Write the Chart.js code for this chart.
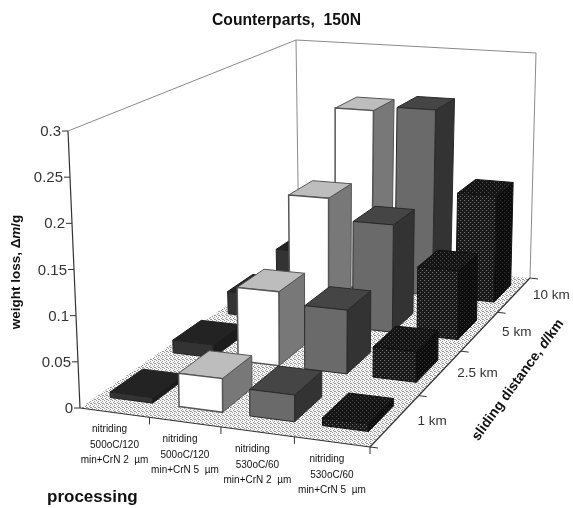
<!DOCTYPE html>
<html>
<head>
<meta charset="utf-8">
<style>
  html, body { margin: 0; padding: 0; background: #fff; }
  canvas { display: block; filter: blur(0.6px); }
</style>
<script src="https://cdn.jsdelivr.net/npm/chart.js@4"></script>
</head>
<body>
<canvas id="chart" width="573" height="508"></canvas>
<script>
const processing = ['p1', 'p2', 'p3', 'p4'];
const processingLine1 = ['nitriding', 'nitriding', 'nitriding', 'nitriding'];
const processingLine2 = ['500oC/120', '500oC/120', '530oC/60', '530oC/60'];
const processingLine3 = ['min+CrN 2  µm', 'min+CrN 5  µm', 'min+CrN 2  µm', 'min+CrN 5  µm'];
const distances = ['1 km', '2.5 km', '5 km', '10 km'];

const loss1km = [0.006, 0.036, 0.028, 0.008];
const loss2_5km = [0.015, 0.085, 0.072, 0.034];
const loss5km = [0.028, 0.156, 0.13, 0.082];
const loss10km = [0.04, 0.234, 0.24, 0.135];

// wall corners of the 3D box on screen: floor, then top of the value axis
const floorQuad = [[80, 408], [370, 447], [530, 278], [299, 255]];
const topQuad = [[68, 131], [371, 147], [536, 53], [296, 40]];
const barWidth = 0.62;
const barDepth = 0.5;

function homography(q) {
  const [[x0, y0], [x1, y1], [x2, y2], [x3, y3]] = q;
  const dx1 = x1 - x2, dx2 = x3 - x2, sx = x0 - x1 + x2 - x3;
  const dy1 = y1 - y2, dy2 = y3 - y2, sy = y0 - y1 + y2 - y3;
  const den = dx1 * dy2 - dx2 * dy1;
  const g = (sx * dy2 - dx2 * sy) / den;
  const h = (dx1 * sy - sx * dy1) / den;
  const a = x1 - x0 + g * x1, b = x3 - x0 + h * x3;
  const d = y1 - y0 + g * y1, e = y3 - y0 + h * y3;
  return (u, v) => {
    const k = g * u + h * v + 1;
    return [(a * u + b * v + x0) / k, (d * u + e * v + y0) / k];
  };
}
const floorMap = homography(floorQuad);
const topMap = homography(topQuad);

// u, v, w all run 0..1 across the box
function project(u, v, w) {
  const p0 = floorMap(u, v), p1 = topMap(u, v);
  return [p0[0] + (p1[0] - p0[0]) * w, p0[1] + (p1[1] - p0[1]) * w];
}

function makePattern(ctx, size, bg, dot, cells) {
  const c = document.createElement('canvas');
  c.width = size;
  c.height = size;
  const t = c.getContext('2d');
  t.fillStyle = bg;
  t.fillRect(0, 0, size, size);
  t.fillStyle = dot;
  cells.forEach(([x, y]) => t.fillRect(x, y, 1, 1));
  return ctx.createPattern(c, 'repeat');
}

function poly(ctx, pts, fill, stroke, lw) {
  ctx.beginPath();
  pts.forEach((p, i) => (i ? ctx.lineTo(p[0], p[1]) : ctx.moveTo(p[0], p[1])));
  ctx.closePath();
  if (fill) {
    ctx.fillStyle = fill;
    ctx.fill();
  }
  if (stroke) {
    ctx.strokeStyle = stroke;
    ctx.lineWidth = lw || 1;
    ctx.stroke();
  }
}

function line(ctx, a, b, color, lw) {
  ctx.beginPath();
  ctx.moveTo(a[0], a[1]);
  ctx.lineTo(b[0], b[1]);
  ctx.strokeStyle = color;
  ctx.lineWidth = lw || 1;
  ctx.stroke();
}

function drawBar(ctx, u0, u1, v0, v1, w, style) {
  const front = [project(u0, v0, 0), project(u1, v0, 0), project(u1, v0, w), project(u0, v0, w)];
  const side = [project(u1, v0, 0), project(u1, v1, 0), project(u1, v1, w), project(u1, v0, w)];
  const top = [project(u0, v0, w), project(u1, v0, w), project(u1, v1, w), project(u0, v1, w)];
  poly(ctx, side, style.side, style.line, 1);
  poly(ctx, top, style.top, style.line, 1);
  poly(ctx, front, style.front, style.line, style.lw || 1);
}

function drawRotated(ctx, cx, cy, angle, size, parts) {
  ctx.save();
  ctx.translate(cx, cy);
  ctx.rotate(angle);
  ctx.textAlign = 'left';
  ctx.textBaseline = 'middle';
  const fonts = parts.map((p) => p[1] + ' ' + size + 'px "Liberation Sans"');
  let total = 0;
  parts.forEach((p, i) => {
    ctx.font = fonts[i];
    total += ctx.measureText(p[0]).width;
  });
  let x = -total / 2;
  parts.forEach((p, i) => {
    ctx.font = fonts[i];
    ctx.fillText(p[0], x, 0);
    x += ctx.measureText(p[0]).width;
  });
  ctx.restore();
}

const box3d = {
  id: 'box3d',
  beforeDatasetsDraw(chart) {
    const { ctx, scales } = chart;
    const { x, y, z } = scales;
    const toU = (i) => (x.getPixelForValue(i) - x.left) / x.width;
    const toV = (i) => (z.getPixelForValue(i) - z.left) / z.width;
    const toW = (val) => (y.bottom - y.getPixelForValue(val)) / y.height;
    const du = 1 / processing.length;
    const dv = 1 / distances.length;

    ctx.save();

    const floorFill = makePattern(ctx, 4, '#f6f6f6', '#999', [[0, 0], [2, 1], [1, 2], [3, 3], [2, 3]]);
    const darkFront = makePattern(ctx, 4, '#1a1a1a', '#707070', [[0, 0], [2, 2]]);
    const darkSide = makePattern(ctx, 4, '#0d0d0d', '#363636', [[0, 0], [2, 2]]);
    const darkTop = makePattern(ctx, 4, '#151515', '#4a4a4a', [[0, 0], [2, 2]]);
    const styles = [
      { front: '#333', side: '#1c1c1c', top: '#232323', line: '#222' },
      { front: '#fff', side: '#787878', top: '#bdbdbd', line: '#555', lw: 1.5 },
      { front: '#6a6a6a', side: '#333', top: '#454545', line: '#2a2a2a' },
      { front: darkFront, side: darkSide, top: darkTop, line: '#111' }
    ];

    // walls and floor
    poly(ctx, [project(0, 0, 0), project(0, 0, 1), project(0, 1, 1), project(0, 1, 0)], '#fff');
    line(ctx, project(0, 0, 1), project(0, 1, 1), '#8a8a8a', 1);
    line(ctx, project(0, 1, 1), project(1, 1, 1), '#8a8a8a', 1);
    line(ctx, project(0, 1, 0), project(0, 1, 1), '#8a8a8a', 1);
    line(ctx, project(1, 1, 0), project(1, 1, 1), '#8a8a8a', 1);
    poly(ctx, [project(0, 0, 0), project(1, 0, 0), project(1, 1, 0), project(0, 1, 0)], floorFill);

    // value axis
    line(ctx, project(0, 0, 0), project(0, 0, 1), '#333', 1.2);
    ctx.font = '15px "Liberation Sans"';
    ctx.fillStyle = '#333';
    ctx.textAlign = 'right';
    ctx.textBaseline = 'middle';
    y.ticks.forEach((t) => {
      const p = project(0, 0, toW(t.value));
      line(ctx, [p[0] - 6, p[1]], p, '#333', 1);
      ctx.fillText(String(+t.value.toFixed(2)), p[0] - 7, p[1] + 1);
    });

    // floor edges and their ticks
    line(ctx, project(0, 0, 0), project(1, 0, 0), '#333', 1.2);
    line(ctx, project(1, 0, 0), project(1, 1, 0), '#333', 1.2);
    for (let i = 1; i <= processing.length; i++) {
      const p = project(i * du, 0, 0);
      line(ctx, p, [p[0], p[1] + 7], '#333', 1);
    }
    for (let i = 0; i <= distances.length; i++) {
      const p = project(1, i * dv, 0);
      line(ctx, p, [p[0] + 8, p[1] + 1], '#333', 1);
    }

    // bars, far row first and left to right inside a row
    for (let d = distances.length - 1; d >= 0; d--) {
      const values = chart.data.datasets[d].data;
      processing.forEach((_, i) => {
        const uc = toU(i), vc = toV(d);
        drawBar(ctx, uc - du * barWidth / 2, uc + du * barWidth / 2,
          vc - dv * barDepth / 2, vc + dv * barDepth / 2, toW(values[i]), styles[i]);
      });
    }

    // category labels under the front edge
    ctx.font = '10px "Liberation Sans"';
    ctx.fillStyle = '#111';
    ctx.textAlign = 'center';
    processing.forEach((_, i) => {
      const p = project(toU(i), 0, 0);
      ctx.fillText(processingLine1[i], p[0] - 5, p[1] + 17);
      ctx.fillText(processingLine2[i], p[0], p[1] + 33);
      ctx.fillText(processingLine3[i], p[0], p[1] + 48);
    });

    // distance labels beside the right edge
    ctx.font = '13.5px "Liberation Sans"';
    ctx.fillStyle = '#333';
    distances.forEach((label, i) => {
      const p = project(1, toV(i), 0);
      ctx.fillText(label, p[0] + 37, p[1] + 1);
    });

    // axis titles
    ctx.fillStyle = '#111';
    ctx.font = 'bold 17px "Liberation Sans"';
    ctx.textAlign = 'left';
    ctx.fillText('processing', 47, 497);

    drawRotated(ctx, 16, 272, -Math.PI / 2, 13.5, [['weight loss, Δ', 'bold'], ['m', 'italic bold'], ['/g', 'bold']]);
    drawRotated(ctx, 518, 380, -54 * Math.PI / 180, 14, [['sliding distance, ', 'bold'], ['d', 'italic bold'], ['/km', 'bold']]);

    ctx.restore();
    return false;
  }
};

new Chart(document.getElementById('chart'), {
  type: 'bar',
  data: {
    labels: processing,
    datasets: [
      { label: distances[0], data: loss1km },
      { label: distances[1], data: loss2_5km },
      { label: distances[2], data: loss5km },
      { label: distances[3], data: loss10km }
    ]
  },
  plugins: [box3d],
  options: {
    responsive: false,
    animation: false,
    layout: { padding: 0 },
    plugins: {
      legend: { display: false },
      tooltip: { enabled: false },
      title: {
        display: true,
        text: 'Counterparts,  150N',
        color: '#111',
        font: { family: '"Liberation Sans"', size: 15.7, weight: 'bold' },
        padding: { top: 11, bottom: 5 }
      }
    },
    scales: {
      x: { display: false, offset: true },
      z: { type: 'category', axis: 'x', labels: distances, offset: true, display: false },
      y: { display: false, min: 0, max: 0.3, ticks: { stepSize: 0.05 } }
    }
  }
});
</script>
</body>
</html>
